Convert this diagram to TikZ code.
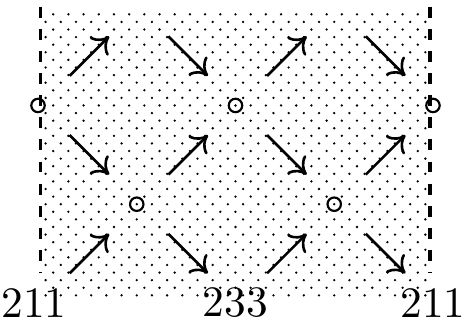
\documentclass[tikz,border=0pt]{standalone}
\usetikzlibrary{arrows.meta}
\begin{document}
\begin{tikzpicture}[
  x=0.8cm,
  y=0.8cm,
  hole/.style={circle, draw=black, line width=0.5pt, inner sep=0pt, minimum size=3.1pt},
  spin/.style={-{To[length=3.5pt,width=6pt]}, line width=0.6pt},
  wall/.style={dash pattern=on 2.5pt off 2.6pt, line width=0.7pt},
  height/.style={inner sep=0pt}
]
\useasboundingbox (-0.385,-0.203) rectangle (4.284,3.068);
\foreach \a in {2,4,...,50} \foreach \b in {2,4,...,38} \fill (\a/13,\b/13) circle (0.3pt);
\foreach \a in {1,3,...,51} \foreach \b in {1,3,...,37} \fill (\a/13,\b/13) circle (0.3pt);
\coordinate (wl) at (0.03,3.0);
\coordinate (wlb) at (0.03,0.3);
\coordinate (wr) at (3.97,3.0);
\coordinate (wrb) at (3.97,0.3);
\draw[wall] (wl) -- (wlb);
\draw[wall] (wr) -- (wrb);
\foreach \c/\r in {0/0,2/0,1/1,3/1,0/2,2/2}
  \draw[spin] (\c+0.32,\r+0.3) -- (\c+0.72,\r+0.7);
\foreach \c/\r in {1/0,3/0,0/1,2/1,1/2,3/2}
  \draw[spin] (\c+0.32,\r+0.7) -- (\c+0.72,\r+0.3);
\node[hole] (h02) at (0,2) {};
\node[hole] (h22) at (2,2) {};
\node[hole] (h42) at (4,2) {};
\node[hole] (h11) at (1,1) {};
\node[hole] (h31) at (3,1) {};
\node[height] (hl) at (-0.04,0) {211};
\node[height] (hm) at (2,0) {233};
\node[height] (hr) at (4,0) {211};
\end{tikzpicture}
\end{document}
